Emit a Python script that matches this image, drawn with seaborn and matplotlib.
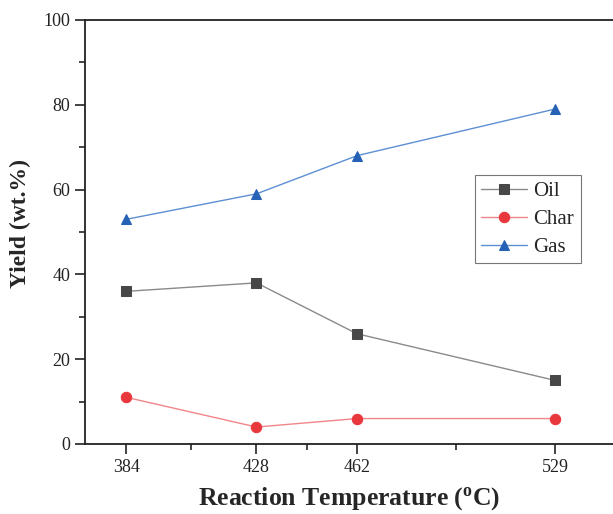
import pandas as pd
import numpy as np
import matplotlib.pyplot as plt
import seaborn as sns

sns.set_style('ticks')
plt.rcParams['font.family'] = ['Liberation Serif', 'DejaVu Serif']
plt.rcParams['mathtext.fontset'] = 'custom'
plt.rcParams['mathtext.rm'] = 'Liberation Serif'
plt.rcParams['mathtext.bf'] = 'Liberation Serif:bold'

# data
temps = [384, 428, 462, 529]
oil = [36, 38, 26, 15]
char = [11, 4, 6, 6]
gas = [53, 59, 68, 79]

df = pd.DataFrame({'Temp': temps * 3,
                   'Yield': oil + char + gas,
                   'Product': ['Oil'] * 4 + ['Char'] * 4 + ['Gas'] * 4})

# product -> (line colour, marker colour, marker)
styles = {'Oil': ('#8a8a8a', '#474747', 's'),
          'Char': ('#f2858a', '#e8383d', 'o'),
          'Gas': ('#5d8fd3', '#2561b5', '^')}

fig = plt.figure(figsize=(6.13, 5.14), dpi=100)
ax = fig.add_axes([0.1387, 0.1362, 0.8613, 0.8249])

for name in ['Oil', 'Char', 'Gas']:
    lc, mc, mk = styles[name]
    sns.lineplot(data=df[df['Product'] == name], x='Temp', y='Yield',
                 ax=ax, color=lc, linewidth=1, marker=mk, markersize=7.5,
                 markerfacecolor=mc, markeredgecolor=mc, label=name)

ax.set_xlim(370, 548.6)
ax.set_ylim(0, 100)
ax.set_xticks(temps)
ax.set_xticks([406, 445, 495.5], minor=True)
ax.set_yticks(np.arange(0, 101, 20))
ax.set_yticks(np.arange(10, 100, 20), minor=True)
ax.tick_params(which='major', direction='out', length=7, width=1.2,
               labelsize=13, colors='#222222')
ax.tick_params(which='minor', direction='out', length=4, width=1.2)

for side in ['left', 'bottom', 'top']:
    ax.spines[side].set_linewidth(1.3)
    ax.spines[side].set_color('#222222')
ax.spines['right'].set_visible(False)

ax.set_xlabel(r'Reaction Temperature ($\mathbf{^{o}}$C)', fontsize=18.5,
              fontweight='bold', labelpad=7)
ax.set_ylabel('Yield (wt.%)', fontsize=17, fontweight='bold')
ax.yaxis.set_label_coords(-0.103, 0.52)

leg = ax.legend(loc='upper left', bbox_to_anchor=(0.739, 0.634), fontsize=15,
                frameon=True, fancybox=False, edgecolor='#555555',
                handlelength=2.2, borderpad=0.3, labelspacing=0.4,
                handletextpad=0.3, borderaxespad=0)
leg.get_frame().set_linewidth(0.8)

fig.savefig('out.png', dpi=100)
